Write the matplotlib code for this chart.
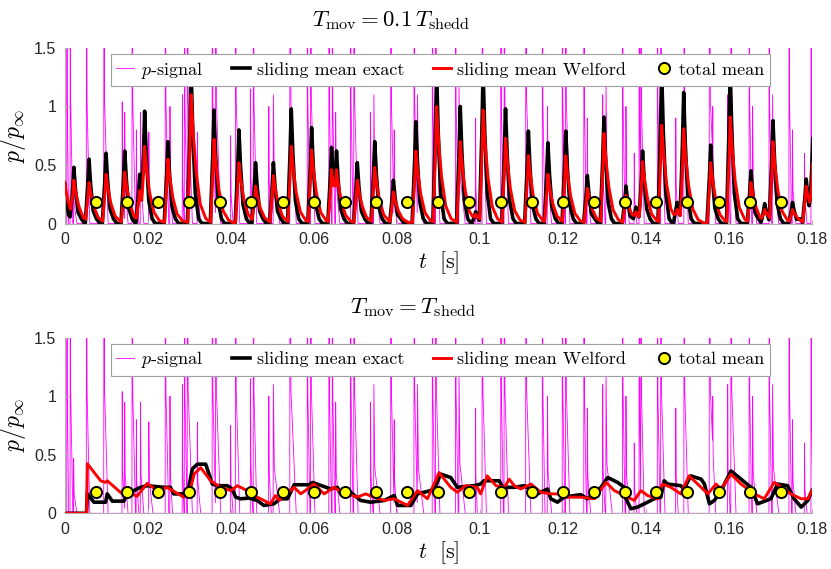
import matplotlib
matplotlib.use("Agg")
import matplotlib.pyplot as plt
import numpy as np

plt.rcParams['mathtext.fontset'] = 'cm'
plt.rcParams['font.family'] = ['Liberation Sans', 'DejaVu Sans']

# p-signal spikes (same signal in both panels): time [s], peak p/p_inf, decay length [s]
sig_t = [0.0006, 0.0014, 0.0022, 0.0053, 0.0095, 0.0139, 0.0145, 0.0163, 0.0173, 0.0183,
         0.0203, 0.0243, 0.0254, 0.0284, 0.0289, 0.0296, 0.0320, 0.0356, 0.0364, 0.0400,
         0.0412, 0.0448, 0.0455, 0.0492, 0.0503, 0.0543, 0.0585, 0.0593, 0.0637, 0.0645,
         0.0653, 0.0689, 0.0697, 0.0737, 0.0745, 0.0786, 0.0794, 0.0842, 0.0850, 0.0886,
         0.0894, 0.0942, 0.0950, 0.0990, 0.1006, 0.1051, 0.1059, 0.1111, 0.1151, 0.1163,
         0.1199, 0.1207, 0.1251, 0.1259, 0.1296, 0.1304, 0.1344, 0.1352, 0.1372, 0.1384,
         0.1388, 0.1428, 0.1436, 0.1472, 0.1492, 0.1553, 0.1561, 0.1597, 0.1605, 0.1649,
         0.1657, 0.1697, 0.1705, 0.1745, 0.1753, 0.1782, 0.1798]
sig_h = [3.0, 3.0, 0.47, 3.0, 3.0, 1.04, 0.95, 3.0, 0.80, 0.95,
         0.78, 3.0, 1.0, 1.1, 3.0, 3.0, 0.78, 3.0, 3.0, 0.75,
         3.0, 1.15, 3.0, 1.0, 1.1, 3.0, 3.0, 3.0, 3.0, 3.0,
         0.95, 3.0, 3.0, 0.95, 1.1, 3.0, 0.8, 3.0, 1.1, 3.0,
         3.0, 3.0, 1.2, 0.9, 3.0, 3.0, 3.0, 3.0, 3.0, 1.0,
         3.0, 3.0, 3.0, 0.9, 1.1, 1.2, 3.0, 1.0, 0.6, 3.0,
         3.0, 3.0, 3.0, 0.9, 3.0, 3.0, 1.0, 1.1, 3.0, 3.0,
         1.0, 3.0, 1.1, 3.0, 0.8, 0.6, 3.0]
sig_tail = [0.0004, 0.0006, 0.0008, 0.0008, 0.0010, 0.0006, 0.0008, 0.0008, 0.0006, 0.0008,
            0.0010, 0.0008, 0.0006, 0.0004, 0.0006, 0.0012, 0.0008, 0.0008, 0.0012, 0.0006,
            0.0010, 0.0006, 0.0008, 0.0006, 0.0015, 0.0015, 0.0006, 0.0010, 0.0006, 0.0006,
            0.0010, 0.0006, 0.0010, 0.0006, 0.0015, 0.0008, 0.0006, 0.0008, 0.0015, 0.0006,
            0.0010, 0.0006, 0.0015, 0.0004, 0.0010, 0.0006, 0.0010, 0.0012, 0.0006, 0.0010,
            0.0006, 0.0010, 0.0006, 0.0008, 0.0006, 0.0015, 0.0006, 0.0008, 0.0006, 0.0004,
            0.0008, 0.0006, 0.0010, 0.0006, 0.0010, 0.0015, 0.0006, 0.0006, 0.0012, 0.0006,
            0.0010, 0.0006, 0.0015, 0.0006, 0.0008, 0.0006, 0.0004]

# top panel (T_mov = 0.1 T_shedd): sliding-mean peaks
peak_t = [0.0, 0.00225, 0.0059, 0.0100, 0.0145, 0.0181, 0.0193, 0.0249, 0.0305, 0.0360,
          0.0420, 0.0460, 0.0503, 0.0546, 0.0595, 0.0643, 0.0655, 0.0705, 0.0747, 0.0792,
          0.0846, 0.0896, 0.0953, 0.0990, 0.1008, 0.1062, 0.1117, 0.1164, 0.1207, 0.1259,
          0.1299, 0.1352, 0.1376, 0.1392, 0.1438, 0.1475, 0.1491, 0.1556, 0.1603, 0.1653,
          0.1686, 0.1706, 0.1753, 0.1786, 0.1802]
peak_exact = [0.35, 0.48, 0.55, 0.60, 0.62, 0.42, 0.96, 0.70, 1.29, 0.97,
              0.80, 0.52, 0.52, 0.98, 0.82, 0.65, 0.62, 0.52, 0.70, 0.37,
              0.87, 1.29, 1.00, 0.10, 1.30, 0.98, 0.79, 0.69, 0.79, 0.41,
              0.91, 0.32, 0.14, 0.62, 1.30, 0.18, 1.12, 0.67, 1.30, 0.45,
              0.17, 0.88, 0.18, 0.38, 0.73]
peak_welford = [0.36, 0.37, 0.35, 0.42, 0.44, 0.28, 0.66, 0.55, 1.10, 0.72,
                0.52, 0.32, 0.41, 0.66, 0.63, 0.46, 0.46, 0.37, 0.48, 0.27,
                0.62, 1.00, 0.70, 0.08, 0.97, 0.73, 0.58, 0.42, 0.58, 0.30,
                0.77, 0.24, 0.10, 0.53, 0.84, 0.12, 0.81, 0.52, 0.91, 0.35,
                0.12, 0.70, 0.12, 0.32, 0.52]

# bottom panel (T_mov = T_shedd): sliding means
bot_exact_t = [0.0, 0.0053, 0.0055, 0.0071, 0.0099, 0.0103, 0.0115, 0.0143, 0.0151, 0.0183,
               0.0199, 0.0239, 0.0255, 0.0263, 0.0296, 0.0308, 0.0320, 0.0340, 0.0356, 0.0368,
               0.0392, 0.0404, 0.0412, 0.0424, 0.0444, 0.0464, 0.0480, 0.0504, 0.0520, 0.0537,
               0.0553, 0.0589, 0.0597, 0.0641, 0.0657, 0.0665, 0.0689, 0.0713, 0.0737, 0.0770,
               0.0794, 0.0802, 0.0834, 0.0850, 0.0882, 0.0894, 0.0906, 0.0930, 0.0946, 0.0986,
               0.1002, 0.1010, 0.1047, 0.1055, 0.1083, 0.1107, 0.1139, 0.1155, 0.1163, 0.1171,
               0.1187, 0.1203, 0.1243, 0.1259, 0.1292, 0.1308, 0.1332, 0.1348, 0.1352, 0.1364,
               0.1380, 0.1396, 0.1420, 0.1436, 0.1444, 0.1452, 0.1484, 0.1492, 0.1508, 0.1533,
               0.1541, 0.1553, 0.1565, 0.1581, 0.1605, 0.1629, 0.1653, 0.1669, 0.1701, 0.1717,
               0.1741, 0.1757, 0.1774, 0.1790, 0.1800]
bot_exact = [0.0, 0.0, 0.166, 0.095, 0.095, 0.166, 0.104, 0.104, 0.166, 0.222,
             0.236, 0.222, 0.222, 0.166, 0.166, 0.380, 0.420, 0.420, 0.250, 0.236,
             0.236, 0.208, 0.138, 0.124, 0.130, 0.110, 0.067, 0.081, 0.124, 0.124,
             0.244, 0.244, 0.264, 0.208, 0.222, 0.166, 0.180, 0.110, 0.095, 0.110,
             0.152, 0.067, 0.067, 0.166, 0.194, 0.236, 0.335, 0.306, 0.222, 0.236,
             0.250, 0.278, 0.278, 0.222, 0.222, 0.236, 0.166, 0.194, 0.208, 0.124,
             0.095, 0.138, 0.160, 0.124, 0.222, 0.306, 0.264, 0.222, 0.124, 0.039,
             0.053, 0.081, 0.124, 0.138, 0.278, 0.250, 0.236, 0.208, 0.320, 0.292,
             0.250, 0.081, 0.110, 0.194, 0.362, 0.292, 0.222, 0.081, 0.124, 0.250,
             0.236, 0.124, 0.053, 0.110, 0.194]
bot_welford_t = [0.0, 0.0053, 0.0055, 0.0087, 0.0099, 0.0103, 0.0139, 0.0151, 0.0175, 0.0199,
                 0.0223, 0.0247, 0.0287, 0.0300, 0.0312, 0.0328, 0.0352, 0.0376, 0.0400, 0.0416,
                 0.0440, 0.0464, 0.0480, 0.0496, 0.0508, 0.0517, 0.0553, 0.0569, 0.0601, 0.0625,
                 0.0649, 0.0661, 0.0681, 0.0705, 0.0725, 0.0745, 0.0770, 0.0794, 0.0826, 0.0850,
                 0.0874, 0.0902, 0.0930, 0.0946, 0.0966, 0.0994, 0.1002, 0.1018, 0.1039, 0.1059,
                 0.1071, 0.1083, 0.1099, 0.1123, 0.1147, 0.1171, 0.1195, 0.1211, 0.1243, 0.1276,
                 0.1304, 0.1324, 0.1356, 0.1372, 0.1388, 0.1404, 0.1428, 0.1440, 0.1460, 0.1484,
                 0.1504, 0.1533, 0.1549, 0.1569, 0.1581, 0.1605, 0.1629, 0.1661, 0.1685, 0.1709,
                 0.1733, 0.1749, 0.1774, 0.1790, 0.1800]
bot_welford = [0.0, 0.0, 0.424, 0.278, 0.264, 0.278, 0.166, 0.180, 0.146, 0.256,
               0.194, 0.222, 0.138, 0.150, 0.335, 0.390, 0.278, 0.222, 0.194, 0.236,
               0.194, 0.138, 0.110, 0.081, 0.152, 0.110, 0.222, 0.166, 0.250, 0.166,
               0.222, 0.194, 0.166, 0.138, 0.166, 0.138, 0.110, 0.124, 0.067, 0.194,
               0.124, 0.348, 0.222, 0.180, 0.236, 0.222, 0.166, 0.320, 0.236, 0.222,
               0.292, 0.236, 0.208, 0.250, 0.180, 0.166, 0.166, 0.138, 0.138, 0.124,
               0.264, 0.194, 0.138, 0.110, 0.194, 0.152, 0.124, 0.250, 0.222, 0.166,
               0.320, 0.222, 0.166, 0.250, 0.208, 0.335, 0.250, 0.166, 0.124, 0.264,
               0.208, 0.166, 0.124, 0.124, 0.194]

# total mean markers
mean_t = [0.0075 * k for k in range(1, 24)]
total_mean = 0.185


def envelope(pulses):
    # upper envelope of piecewise-linear pulses given as (times, values)
    tt = np.unique(np.concatenate([p[0] for p in pulses]))
    vv = np.zeros_like(tt)
    for pt, pv in pulses:
        vv = np.maximum(vv, np.interp(tt, pt, pv, left=0, right=0))
    return tt, vv


spikes = []
for t, h, w in zip(sig_t, sig_h, sig_tail):
    spikes.append(([t - 0.00006, t, t + 0.15 * w, t + w], [0, h, 0.35 * h, 0]))
p_t, p_v = envelope(spikes)

ex_pulses = []
we_pulses = []
for t, hb, hr in zip(peak_t, peak_exact, peak_welford):
    ex_pulses.append(([t - 0.0009, t - 0.0003, t, t + 0.0004, t + 0.001, t + 0.0018, t + 0.0026],
                      [0, 0.6 * hb, hb, 0.6 * hb, 0.2 * hb, 0.04, 0]))
    we_pulses.append(([t - 0.0008, t - 0.0002, t, t + 0.0005, t + 0.0012, t + 0.0022,
                       t + 0.0035, t + 0.005],
                      [0.01, 0.7 * hr, hr, 0.7 * hr, 0.4 * hr, 0.15 * hr, 0.04 * hr, 0]))
ex_t, ex_v = envelope(ex_pulses)
we_t, we_v = envelope(we_pulses)

fig = plt.figure(figsize=(8.31, 5.69), dpi=100)
W, H = 831, 569
ax1 = fig.add_axes([64.5 / W, 1 - 223.5 / H, 747.5 / W, 175.5 / H])
ax2 = fig.add_axes([64.5 / W, 1 - 513.3 / H, 747.5 / W, 175.5 / H])

panels = [
    (ax1, ex_t, ex_v, we_t, we_v),
    (ax2, bot_exact_t, bot_exact, bot_welford_t, bot_welford),
]

for ax, et, ev, wt, wv in panels:
    ax.plot(p_t, p_v, color='#ff00ff', lw=0.6, label=r'$p$-signal', zorder=1)
    ax.plot(et, ev, color='black', lw=2.6, label='sliding mean exact', zorder=2)
    ax.plot(wt, wv, color='#ff0000', lw=2.1, label='sliding mean Welford', zorder=3)
    ax.plot(mean_t, [total_mean] * len(mean_t), 'o', color='#ffff00', mec='black',
            mew=1.4, ms=8, label='total mean', zorder=4)
    ax.set_xlim(0, 0.18)
    ax.set_ylim(0, 1.5)
    ax.set_xticks(np.arange(0, 0.181, 0.02))
    ax.set_xticklabels(['0', '0.02', '0.04', '0.06', '0.08', '0.1', '0.12', '0.14',
                        '0.16', '0.18'])
    ax.set_yticks([0, 0.5, 1, 1.5])
    ax.set_yticklabels(['0', '0.5', '1', '1.5'])
    for s in ['top', 'right']:
        ax.spines[s].set_visible(False)
    for s in ['left', 'bottom']:
        ax.spines[s].set_color('#b0b0b0')
        ax.spines[s].set_linewidth(0.8)
    ax.tick_params(direction='in', length=3, color='#b0b0b0', labelsize=11.5,
                   labelcolor='#262626', pad=6)
    ax.set_xlabel(r'$t\ \ [\mathrm{s}]$', fontsize=16, labelpad=2)
    ax.set_ylabel(r'$p/p_\infty$', fontsize=17, labelpad=4)
    leg = ax.legend(loc='upper center', bbox_to_anchor=(0.503, 0.985), ncol=4,
                    frameon=True, fancybox=False, framealpha=1, edgecolor='#a0a0a0',
                    prop={'family': 'cmr10', 'size': 13}, handlelength=1.0,
                    handletextpad=0.35, columnspacing=1.6, borderpad=0.3,
                    borderaxespad=0.2)
    leg.get_frame().set_linewidth(0.8)

fig.text(312 / W, 1 - 26 / H, r'$T_{\mathrm{mov}} = 0.1\,T_{\mathrm{shedd}}$',
         fontsize=16.5, ha='left', va='baseline')
fig.text(350 / W, 1 - 313 / H, r'$T_{\mathrm{mov}} = T_{\mathrm{shedd}}$',
         fontsize=16.5, ha='left', va='baseline')

fig.savefig('out.png', dpi=100)
